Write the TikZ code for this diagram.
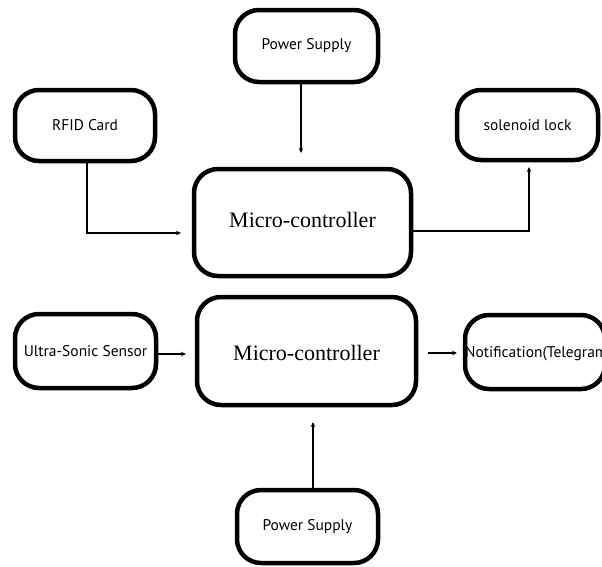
\documentclass[tikz,border=0pt]{standalone}
\usepackage{fontspec}
\setmainfont{Liberation Serif}
\setsansfont{PT Sans}
\usetikzlibrary{arrows.meta}
\tikzset{
  box/.style={draw, line width=4.5pt, rounded corners=24pt, fill=white, inner sep=0pt,
    font=\sffamily\fontsize{15.5}{18}\selectfont},
  bigbox/.style={box, font=\rmfamily\fontsize{22}{26}\selectfont},
  conn/.style={line width=1.3pt, -{Stealth[length=5pt,width=4.5pt]}},
}
\begin{document}
\begin{tikzpicture}[x=1pt,y=-1pt]
\useasboundingbox[fill=white] (0,0) rectangle (602,566);
% top diagram
\node[box, minimum width=143pt, minimum height=72pt] (ps1) at (306.5,46) {Power Supply};
\node[box, minimum width=140pt, minimum height=71pt] (rfid) at (85,125.5) {RFID Card};
\node[box, minimum width=141pt, minimum height=70pt] (sol) at (527.5,125) {solenoid lock};
\node[bigbox, minimum width=217pt, minimum height=107pt] (mc1) at (302.5,222.5) {};
\node[font=\rmfamily\fontsize{22}{26}\selectfont] (mc1t) at (302.5,220) {Micro-controller};
% bottom diagram
\node[box, minimum width=141pt, minimum height=74pt] (us) at (85.5,351) {Ultra-Sonic Sensor};
\node[bigbox, minimum width=219pt, minimum height=108pt] (mc2) at (306.5,351) {};
\node[font=\rmfamily\fontsize{22}{26}\selectfont] (mc2t) at (306.5,353) {Micro-controller};
\node[box, minimum width=140pt, minimum height=74pt] (nt) at (535,352) {};
\node[font=\sffamily\fontsize{15.5}{18}\selectfont, anchor=west, inner sep=0pt] (ntt) at (465,354) {Notification(Telegram};
\node[box, minimum width=141pt, minimum height=73pt] (ps2) at (307.5,526.5) {Power Supply};
% connector ends
\coordinate (e1) at (301,153);
\coordinate (e2) at (181,233);
\coordinate (e3) at (529,167);
\coordinate (e4) at (186,354);
\coordinate (s5) at (428,353);
\coordinate (e5) at (457,353);
\coordinate (e6) at (313,422);
% connectors
\draw[conn] (ps1.south -| e1) -- (e1);
\draw[conn] (rfid.south -| 87,0) |- (e2);
\draw[conn] (mc1.east |- 0,231) -| (e3);
\draw[conn] (us.east |- e4) -- (e4);
\draw[conn] (s5) -- (e5);
\draw[conn] (ps2.north -| e6) -- (e6);
\end{tikzpicture}
\end{document}
